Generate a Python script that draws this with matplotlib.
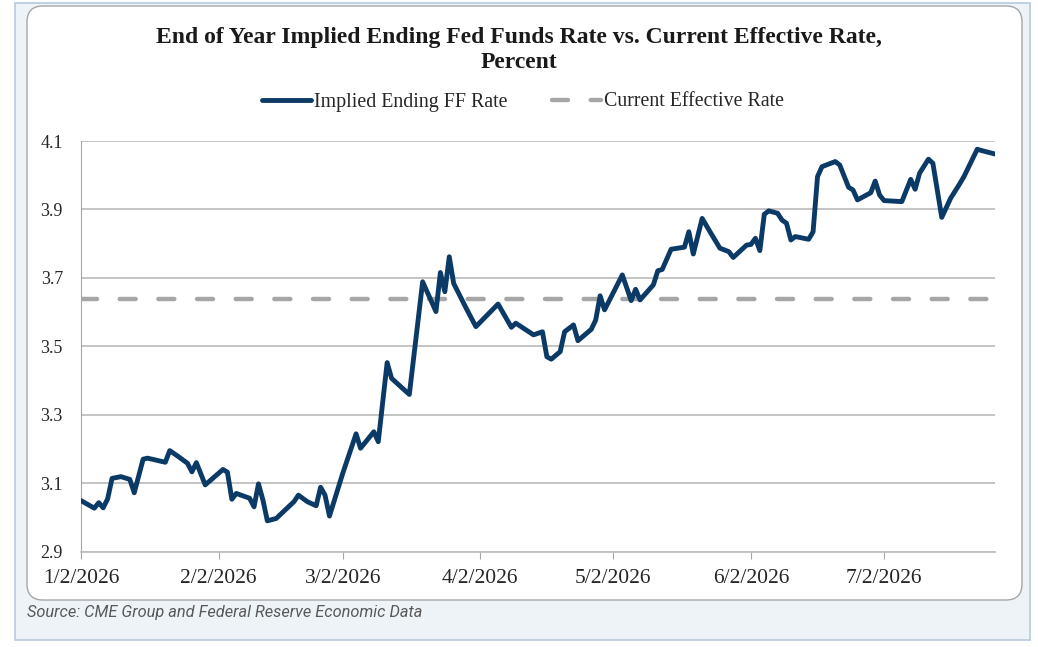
#!/usr/bin/env python3
"""End of year implied fed funds rate vs current effective rate."""

import pandas as pd
import matplotlib
matplotlib.use("Agg")
import matplotlib.pyplot as plt
from matplotlib.patches import FancyBboxPatch, Rectangle
from matplotlib.transforms import IdentityTransform

# values
dates = [
    "2026-01-02", "2026-01-05", "2026-01-06", "2026-01-07", "2026-01-08", "2026-01-09",
    "2026-01-11", "2026-01-13", "2026-01-14", "2026-01-16", "2026-01-17", "2026-01-21",
    "2026-01-22", "2026-01-24", "2026-01-26", "2026-01-27", "2026-01-28", "2026-01-30",
    "2026-02-03", "2026-02-04", "2026-02-05", "2026-02-06", "2026-02-09", "2026-02-10",
    "2026-02-11", "2026-02-12", "2026-02-13", "2026-02-15", "2026-02-19", "2026-02-20",
    "2026-02-22", "2026-02-24", "2026-02-25", "2026-02-26", "2026-02-27", "2026-03-02",
    "2026-03-05", "2026-03-06", "2026-03-09", "2026-03-10", "2026-03-12", "2026-03-13",
    "2026-03-17", "2026-03-20", "2026-03-21", "2026-03-23", "2026-03-24", "2026-03-25",
    "2026-03-26", "2026-03-27", "2026-03-30", "2026-04-01", "2026-04-06", "2026-04-09",
    "2026-04-10", "2026-04-14", "2026-04-16", "2026-04-17", "2026-04-18", "2026-04-20",
    "2026-04-21", "2026-04-23", "2026-04-24", "2026-04-27", "2026-04-28", "2026-04-29",
    "2026-04-30", "2026-05-04", "2026-05-06", "2026-05-07", "2026-05-08", "2026-05-11",
    "2026-05-12", "2026-05-13", "2026-05-15", "2026-05-18", "2026-05-19", "2026-05-20",
    "2026-05-22", "2026-05-24", "2026-05-26", "2026-05-28", "2026-05-29", "2026-06-01",
    "2026-06-02", "2026-06-03", "2026-06-04", "2026-06-05", "2026-06-06", "2026-06-08",
    "2026-06-09", "2026-06-10", "2026-06-11", "2026-06-12", "2026-06-15", "2026-06-16",
    "2026-06-17", "2026-06-18", "2026-06-21", "2026-06-22", "2026-06-24", "2026-06-25",
    "2026-06-26", "2026-06-29", "2026-06-30", "2026-07-01", "2026-07-02", "2026-07-06",
    "2026-07-08", "2026-07-09", "2026-07-10", "2026-07-12", "2026-07-13", "2026-07-15",
    "2026-07-17", "2026-07-19", "2026-07-20", "2026-07-23", "2026-07-24", "2026-07-27",
]
implied_rate = [
    3.050, 3.028, 3.044, 3.029, 3.055, 3.115,
    3.120, 3.112, 3.073, 3.171, 3.174, 3.162,
    3.196, 3.178, 3.159, 3.134, 3.161, 3.096,
    3.141, 3.133, 3.054, 3.071, 3.057, 3.032,
    3.099, 3.052, 2.991, 2.998, 3.047, 3.066,
    3.047, 3.035, 3.089, 3.066, 3.005, 3.130,
    3.245, 3.203, 3.251, 3.222, 3.453, 3.407,
    3.360, 3.689, 3.660, 3.602, 3.716, 3.660,
    3.762, 3.684, 3.607, 3.558, 3.624, 3.556,
    3.568, 3.534, 3.543, 3.470, 3.463, 3.485,
    3.543, 3.563, 3.517, 3.550, 3.577, 3.648,
    3.607, 3.709, 3.634, 3.667, 3.636, 3.680,
    3.721, 3.725, 3.784, 3.790, 3.835, 3.770,
    3.874, 3.830, 3.787, 3.777, 3.760, 3.796,
    3.798, 3.816, 3.780, 3.886, 3.896, 3.889,
    3.869, 3.860, 3.811, 3.821, 3.813, 3.835,
    3.996, 4.025, 4.040, 4.030, 3.965, 3.957,
    3.928, 3.949, 3.983, 3.942, 3.926, 3.923,
    3.988, 3.959, 4.006, 4.047, 4.035, 3.877,
    3.933, 3.974, 3.996, 4.076, 4.072, 4.062,
]
effective_rate = 3.64

tick_dates = ["2026-01-02", "2026-02-02", "2026-03-02", "2026-04-02",
              "2026-05-02", "2026-06-02", "2026-07-02"]
tick_labels = ["1/2/2026", "2/2/2026", "3/2/2026", "4/2/2026",
               "5/2/2026", "6/2/2026", "7/2/2026"]
y_ticks = [2.9, 3.1, 3.3, 3.5, 3.7, 3.9, 4.1]


def main():
    W, H = 1038, 647
    fig = plt.figure(figsize=(W / 100, H / 100), dpi=100)
    fig.patch.set_facecolor("white")

    serif = ["Liberation Serif", "DejaVu Serif"]

    # outer light panel and inner rounded card, drawn in pixel coordinates
    px = IdentityTransform()
    fig.patches.append(Rectangle((15, H - 640), 1015, 637, transform=px,
                                 facecolor="#EEF3F8", edgecolor="#B7C9DD",
                                 linewidth=1.2, zorder=0))
    fig.patches.append(FancyBboxPatch((27, H - 600), 995, 594, transform=px,
                                      boxstyle="round,pad=0,rounding_size=16",
                                      facecolor="white", edgecolor="#A6A6A6",
                                      linewidth=1.0, zorder=1))

    ax = fig.add_axes([81 / W, 1 - 552 / H, 914 / W, 411 / H])
    ax.set_facecolor("none")
    ax.set_zorder(2)

    x = pd.to_datetime(dates)
    ax.plot(x, implied_rate, color="#0B3A66", linewidth=3.5,
            solid_joinstyle="round", solid_capstyle="round",
            label="Implied Ending FF Rate", zorder=3)
    ax.axhline(effective_rate, color="#A6A6A6", linewidth=3.2,
               dashes=(3.6, 5.1), dash_capstyle="round",
               label="Current Effective Rate", zorder=2)

    ax.set_ylim(2.9, 4.1)
    ax.set_yticks(y_ticks)
    ax.set_yticklabels([f"{v:.1f}" for v in y_ticks], fontsize=13, family=serif)
    ax.set_xlim(pd.Timestamp("2026-01-02"), pd.Timestamp("2026-07-27"))
    ax.set_xticks(pd.to_datetime(tick_dates))
    ax.set_xticklabels(tick_labels, fontsize=15.5, family=serif)

    ax.grid(True, axis="y", color="#BFBFBF", linewidth=1.3)
    ax.set_axisbelow(True)
    for side in ["top", "right"]:
        ax.spines[side].set_visible(False)
    ax.spines["left"].set_color("#A6A6A6")
    ax.spines["bottom"].set_color("#BFBFBF")
    ax.spines["bottom"].set_linewidth(1.3)
    ax.tick_params(axis="y", length=0, pad=13)
    ax.tick_params(axis="x", length=5, width=0.8, color="#A6A6A6", pad=7)
    for lab in ax.get_xticklabels() + ax.get_yticklabels():
        lab.set_color("#262626")

    fig.text(0.5, 1 - 37 / H,
             "End of Year Implied Ending Fed Funds Rate vs. Current Effective Rate,",
             ha="center", va="center", fontsize=17, fontweight="bold",
             family=serif, color="#1a1a1a")
    fig.text(0.5, 1 - 62 / H, "Percent", ha="center", va="center",
             fontsize=17, fontweight="bold", family=serif, color="#1a1a1a")

    leg = fig.legend(loc="center", bbox_to_anchor=(523 / W, 1 - 102 / H),
                     ncol=2, frameon=False, prop={"family": serif, "size": 14.3},
                     handlelength=2.5, handletextpad=0.15, columnspacing=2.2)
    for t in leg.get_texts():
        t.set_color("#262626")

    fig.text(27 / W, 1 - 612 / H,
             "Source: CME Group and Federal Reserve Economic Data",
             ha="left", va="center", fontsize=11.8, style="italic",
             family=["Roboto", "DejaVu Sans"], color="#595959")

    fig.savefig("out.png", dpi=100)


if __name__ == "__main__":
    main()
